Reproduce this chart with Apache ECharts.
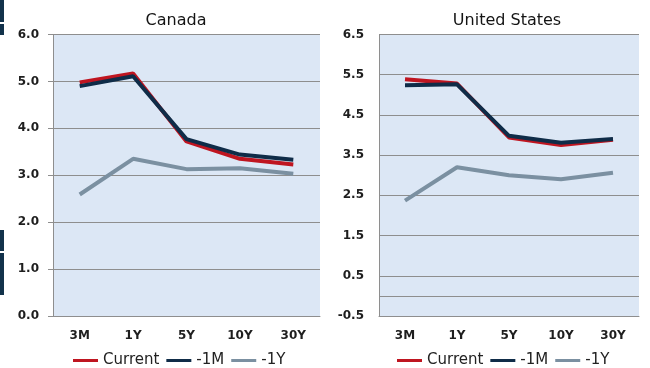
<!DOCTYPE html>
<html>
<head>
<meta charset="utf-8">
<script src="https://cdn.jsdelivr.net/npm/echarts@6/dist/echarts.min.js"></script>
<style>
  html, body { margin: 0; padding: 0; background: #ffffff; }
  #chart { width: 650px; height: 368px; }
</style>
</head>
<body>
<div id="chart"></div>
<script>
// Government yield curves: current vs one month ago vs one year ago
const tenors = ['3M', '1Y', '5Y', '10Y', '30Y'];

const canadaCurrent = [4.98, 5.17, 3.72, 3.35, 3.23];
const canadaMonth   = [4.90, 5.11, 3.77, 3.44, 3.33];
const canadaYear    = [2.59, 3.35, 3.13, 3.15, 3.03];

const usCurrent = [5.39, 5.28, 3.94, 3.75, 3.88];
const usMonth   = [5.24, 5.26, 3.98, 3.81, 3.90];
const usYear    = [2.37, 3.20, 3.00, 2.90, 3.06];

const seriesNames = ['Current', '-1M', '-1Y'];
const panelTitles = ['Canada', 'United States'];

const RED = '#bf1520';
const NAVY = '#0f2c48';
const SLATE = '#7b90a1';
const GRIDLINE = '#8e8e8e';
const PLOT_BG = '#dce7f5';
const FONT = '"DejaVu Sans", Verdana, sans-serif';

const chart = echarts.init(document.getElementById('chart'), null, { renderer: 'canvas' });

function lineSeries(name, data, color, axisIndex, extra) {
  return Object.assign({
    name: name,
    type: 'line',
    data: data,
    xAxisIndex: axisIndex,
    yAxisIndex: axisIndex,
    showSymbol: false,
    symbol: 'none',
    lineStyle: { color: color, width: 4 },
    itemStyle: { color: color },
    animation: false
  }, extra || {});
}

const catAxis = (gridIndex) => ({
  type: 'category',
  gridIndex: gridIndex,
  data: tenors,
  boundaryGap: true,
  axisLine: { show: true, onZero: false, lineStyle: { color: GRIDLINE, width: 1 } },
  axisTick: { show: false },
  axisLabel: { color: '#1e1e1e', fontFamily: FONT, fontWeight: 'bold', fontSize: 12, margin: 14 },
  splitLine: { show: false }
});

const legendBase = {
  data: seriesNames,
  icon: 'rect',
  itemWidth: 25,
  itemHeight: 3,
  itemGap: 7,
  top: 353,
  padding: 0,
  selectedMode: false,
  textStyle: { color: '#222', fontFamily: FONT, fontSize: 15 }
};

const option = {
  backgroundColor: '#ffffff',
  animation: false,
  title: [
    { text: panelTitles[0], left: 176, top: 13, textAlign: 'center', padding: 0,
      textStyle: { color: '#141414', fontFamily: FONT, fontWeight: 'normal', fontSize: 16 } },
    { text: panelTitles[1], left: 507, top: 13, textAlign: 'center', padding: 0,
      textStyle: { color: '#141414', fontFamily: FONT, fontWeight: 'normal', fontSize: 16 } }
  ],
  legend: [
    Object.assign({}, legendBase, { left: 73 }),
    Object.assign({}, legendBase, { left: 397 })
  ],
  graphic: [
    { type: 'rect', shape: { x: 0, y: 0, width: 4, height: 22 }, style: { fill: '#12324b' } },
    { type: 'rect', shape: { x: 0, y: 24, width: 4, height: 11 }, style: { fill: '#12324b' } },
    { type: 'rect', shape: { x: 0, y: 230, width: 4, height: 21 }, style: { fill: '#12324b' } },
    { type: 'rect', shape: { x: 0, y: 253, width: 4, height: 42 }, style: { fill: '#12324b' } }
  ],
  grid: [
    { left: 53, right: 330, top: 34.5, bottom: 52, show: true, backgroundColor: PLOT_BG, borderWidth: 0 },
    { left: 379, right: 11, top: 34.5, bottom: 52, show: true, backgroundColor: PLOT_BG, borderWidth: 0 }
  ],
  xAxis: [catAxis(0), catAxis(1)],
  yAxis: [
    {
      type: 'value', gridIndex: 0, min: 0, max: 6, interval: 1,
      axisLine: { show: true, lineStyle: { color: GRIDLINE, width: 1 } },
      axisTick: { show: true, length: 5, lineStyle: { color: GRIDLINE } },
      axisLabel: { color: '#1e1e1e', fontFamily: FONT, fontWeight: 'bold', fontSize: 12, margin: 14,
        formatter: (v) => v.toFixed(1) },
      splitLine: { show: true, lineStyle: { color: GRIDLINE, width: 1 } }
    },
    {
      // half-step ticks; only the odd halves (-0.5, 0.5, ... 6.5) are labelled and ruled
      type: 'value', gridIndex: 1, min: -0.5, max: 6.5, interval: 0.5,
      axisLine: { show: true, lineStyle: { color: GRIDLINE, width: 1 } },
      axisTick: { show: false },
      axisLabel: { color: '#1e1e1e', fontFamily: FONT, fontWeight: 'bold', fontSize: 12, margin: 15,
        formatter: (v) => (Math.abs(Math.round(v * 10) % 10) === 5 ? v.toFixed(1) : '') },
      splitLine: { show: true, lineStyle: { color: [GRIDLINE, 'rgba(0,0,0,0)'], width: 1 } }
    }
  ],
  series: [
    lineSeries('-1Y', canadaYear, SLATE, 0),
    lineSeries('Current', canadaCurrent, RED, 0),
    lineSeries('-1M', canadaMonth, NAVY, 0),
    lineSeries('-1Y', usYear, SLATE, 1, {
      markLine: {
        silent: true, symbol: 'none', animation: false,
        label: { show: false },
        lineStyle: { color: GRIDLINE, type: 'solid', width: 1 },
        data: [{ yAxis: 0 }]
      }
    }),
    lineSeries('Current', usCurrent, RED, 1),
    lineSeries('-1M', usMonth, NAVY, 1)
  ]
};

chart.setOption(option);
</script>
</body>
</html>
